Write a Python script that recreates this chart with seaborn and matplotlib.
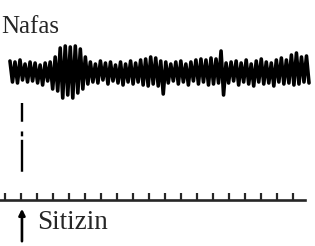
import numpy as np
import pandas as pd
import seaborn as sns
import matplotlib
matplotlib.use('Agg')
import matplotlib.pyplot as plt

# Respiration (nafas) trace: peak and trough of every breath, amplitude in px-like units
peaks = [11, 10, 12, 8, 10, 9, 7, 9, 10,
         15, 24, 26, 25, 26, 23, 15,
         10, 8, 11, 9, 10, 7, 10, 8, 11, 9, 12, 13, 15, 14,
         11, 10, 8, 10, 11, 8, 10, 12, 13, 12, 14, 13,
         21,
         9, 10, 11, 9, 12, 8, 11, 13, 10, 9, 12, 14, 12, 17, 19, 15, 16]
troughs = [-10, -11, -8, -10, -9, -11, -13, -9, -17,
           -19, -26, -23, -26, -21, -17, -12,
           -10, -11, -8, -12, -9, -11, -13, -10, -12, -10, -13, -14, -12, -14,
           -22, -11, -9, -12, -10, -13, -9, -12, -10, -13, -12, -11,
           -23,
           -11, -9, -13, -10, -12, -14, -10, -12, -11, -14, -10, -12, -11, -13, -12, -10, -11]
t_start, t_end = 0.31, 19.0       # seconds covered by the trace
time_ticks = list(range(0, 19))   # one mark per second
stim_time = 1.06                  # cytisine (sitizin) injection
trace_label = 'Nafas'
stim_label = 'Sitizin'

values = np.column_stack((peaks, troughs)).ravel()
df = pd.DataFrame({'t': np.linspace(t_start, t_end, len(values)), 'amp': values})

sns.set_style('white')
plt.rcParams['font.family'] = ['Liberation Serif', 'DejaVu Serif']
plt.rcParams['lines.scale_dashes'] = False

fig = plt.figure(figsize=(3.15, 2.46), dpi=100)
ax = fig.add_axes([0, 0, 1, 1])

sns.lineplot(data=df, x='t', y='amp', color='black', linewidth=2.6, ax=ax,
             solid_joinstyle='round', solid_capstyle='round')

# dashed marker from trace down to the time line
ax.plot([stim_time, stim_time], [-31, -100], color='black', lw=1.7,
        dashes=(13.5, 7, 3.5, 2.5, 23, 40), solid_capstyle='butt')

# stimulus arrow
ax.annotate('', xy=(stim_time, -134), xytext=(stim_time, -172),
            arrowprops=dict(arrowstyle='-|>', lw=1.9, color='black', mutation_scale=9))

ax.text(-0.22, 39, trace_label, fontsize=18, va='baseline', ha='left')
ax.text(2.0, -151, stim_label, fontsize=19.5, va='center', ha='left')

ax.set_xlim(-0.3125, 19.375)
ax.set_ylim(-174, 72)

# time line with one-second marks
for s in ['top', 'left', 'right']:
    ax.spines[s].set_visible(False)
ax.spines['bottom'].set_position(('data', -128))
ax.spines['bottom'].set_bounds(-0.31, 18.75)
ax.spines['bottom'].set_linewidth(1.9)
ax.set_xticks(time_ticks)
ax.tick_params(axis='x', direction='in', length=5, width=1.6, labelbottom=False, bottom=True)
ax.set_yticks([])
ax.set_xlabel('')
ax.set_ylabel('')

fig.savefig('out.png', dpi=100)
